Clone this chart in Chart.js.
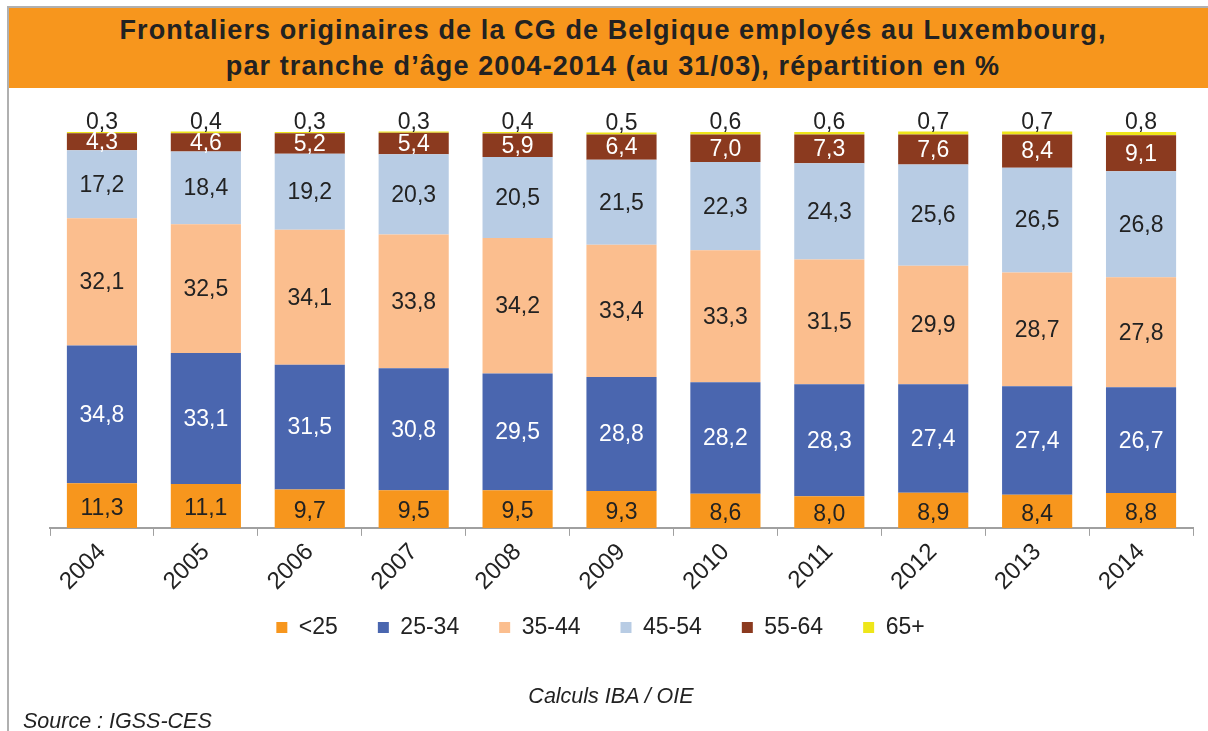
<!DOCTYPE html>
<html lang="fr">
<head>
<meta charset="utf-8">
<title>Frontaliers CG de Belgique</title>
<script src="https://cdn.jsdelivr.net/npm/chart.js@4/dist/chart.umd.min.js"></script>
<style>
  html, body { margin: 0; padding: 0; background: #fff; }
  body { width: 1208px; height: 731px; position: relative; overflow: hidden;
         font-family: Arial, "Liberation Sans", Helvetica, sans-serif; color: #222; }
  #frame { position: absolute; left: 7px; top: 6px; right: 0; bottom: 0;
           border-left: 2px solid #b0b0b0; border-top: 2px solid #b0b0b0; }
  #banner { position: absolute; left: 9px; top: 8px; right: 0; height: 80px;
            background: #f7961d; text-align: center; padding-left: 9px;
            font-weight: bold; font-size: 27px; letter-spacing: 1.1px; line-height: 36px;
            color: #222; box-sizing: border-box; }
  #banner .l1 { margin-top: 4px; }
  #wrap { position: absolute; left: 0; top: 88px; width: 1208px; height: 643px; }
  .note { position: absolute; font-style: italic; font-size: 21.5px; color: #222; }
  #calc { left: 0; width: 1222px; text-align: center; top: 684px; }
  #src { left: 23px; top: 709px; }
</style>
</head>
<body>
<div id="frame"></div>
<div id="banner">
  <div class="l1">Frontaliers originaires de la CG de Belgique employés au Luxembourg,</div>
  <div>par tranche d’âge 2004-2014 (au 31/03), répartition en %</div>
</div>
<div id="wrap"><canvas id="chart" width="1208" height="643"></canvas></div>
<div class="note" id="calc">Calculs IBA / OIE</div>
<div class="note" id="src">Source : IGSS-CES</div>

<script>
const years = ['2004','2005','2006','2007','2008','2009','2010','2011','2012','2013','2014'];

// parts par tranche d'âge, en %
const ageMoins25 = [11.3, 11.1, 9.7, 9.5, 9.5, 9.3, 8.6, 8.0, 8.9, 8.4, 8.8];
const age25_34   = [34.8, 33.1, 31.5, 30.8, 29.5, 28.8, 28.2, 28.3, 27.4, 27.4, 26.7];
const age35_44   = [32.1, 32.5, 34.1, 33.8, 34.2, 33.4, 33.3, 31.5, 29.9, 28.7, 27.8];
const age45_54   = [17.2, 18.4, 19.2, 20.3, 20.5, 21.5, 22.3, 24.3, 25.6, 26.5, 26.8];
const age55_64   = [4.3, 4.6, 5.2, 5.4, 5.9, 6.4, 7.0, 7.3, 7.6, 8.4, 9.1];
const age65plus  = [0.3, 0.4, 0.3, 0.3, 0.4, 0.5, 0.6, 0.6, 0.7, 0.7, 0.8];

const series = [
  { label: '<25',   data: ageMoins25, color: '#f7961d', text: '#222' },
  { label: '25-34', data: age25_34,   color: '#4a66af', text: '#fff' },
  { label: '35-44', data: age35_44,   color: '#fbbe8e', text: '#222' },
  { label: '45-54', data: age45_54,   color: '#b8cce4', text: '#222' },
  { label: '55-64', data: age55_64,   color: '#8b3a1f', text: '#fff' },
  { label: '65+',   data: age65plus,  color: '#eee61a', text: '#222', outside: true }
];

const FONT = 'Arial, "Liberation Sans", Helvetica, sans-serif';
Chart.defaults.font.family = FONT;

const fmt = v => v.toFixed(1).replace('.', ',');

// écrit la valeur au centre de chaque segment, au-dessus de la barre pour 65+
const valueLabels = {
  id: 'valueLabels',
  afterDatasetsDraw(chart) {
    const ctx = chart.ctx;
    ctx.save();
    ctx.font = '23px ' + FONT;
    ctx.textAlign = 'center';
    ctx.textBaseline = 'middle';
    series.forEach((s, i) => {
      chart.getDatasetMeta(i).data.forEach((bar, j) => {
        const top = Math.min(bar.y, bar.base);
        const y = s.outside ? top - 9 : (bar.y + bar.base) / 2 + (i === 0 ? 3 : 1);
        ctx.fillStyle = s.text;
        ctx.fillText(fmt(s.data[j]), bar.x, y);
      });
    });
    ctx.restore();
  }
};

// remonte la légende juste sous les années
const legendShift = {
  id: 'legendShift',
  afterLayout(chart) {
    const lg = chart.legend;
    lg.top -= 22; lg.bottom -= 22;
    lg.left -= 21; lg.right -= 21;
  }
};

new Chart(document.getElementById('chart'), {
  type: 'bar',
  data: {
    labels: years,
    datasets: series.map(s => ({
      label: s.label,
      data: s.data,
      backgroundColor: s.color,
      borderWidth: 0,
      categoryPercentage: 1,
      barPercentage: 0.675,
      clip: false
    }))
  },
  options: {
    responsive: false,
    animation: false,
    layout: { padding: { top: 44, left: 50, right: 15, bottom: 60 } },
    scales: {
      x: {
        stacked: true,
        grid: { drawOnChartArea: false, drawTicks: true, tickLength: 8, color: '#a0a0a0', offset: true },
        border: { display: true, color: '#a0a0a0', width: 2 },
        ticks: { color: '#222', font: { size: 24 }, maxRotation: 45, minRotation: 45, padding: 2 }
      },
      y: { stacked: true, display: false, min: 0, max: 100 }
    },
    plugins: {
      legend: {
        position: 'bottom',
        labels: { boxWidth: 11, boxHeight: 11, padding: 40, color: '#222', font: { size: 23 } }
      },
      tooltip: { enabled: false }
    }
  },
  plugins: [valueLabels, legendShift]
});
</script>
</body>
</html>
